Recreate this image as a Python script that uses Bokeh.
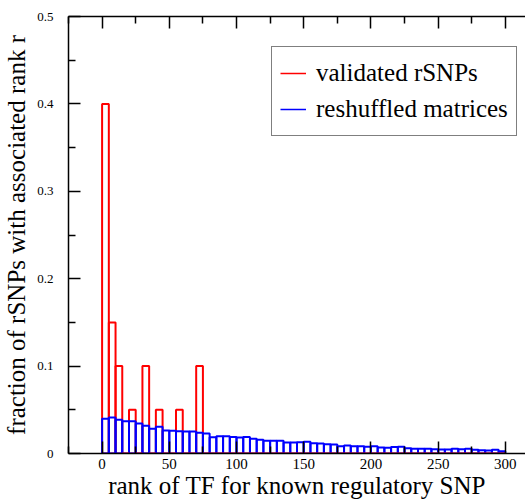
import numpy as np
from bokeh.plotting import figure
from bokeh.models import (ColumnDataSource, Range1d, LinearAxis, FixedTicker,
                          Legend, LegendItem)
from bokeh.embed import file_html
from bokeh.resources import INLINE

# ---- data ----
bin_width = 5
bin_start = list(range(0, 300, bin_width))  # 60 bins, 0..295
validated = [0.40, 0.15, 0.10, 0.0, 0.05, 0.0, 0.10, 0.0, 0.05, 0.0,
             0.0, 0.05, 0.0, 0.0, 0.10] + [0.0] * 45
reshuffled = [0.0397, 0.0412, 0.0385, 0.0370, 0.0370, 0.0344, 0.0317, 0.0282, 0.0305, 0.0263,
              0.0260, 0.0256, 0.0252, 0.0252, 0.0237, 0.0230, 0.0187, 0.0198, 0.0198, 0.0190,
              0.0183, 0.0190, 0.0168, 0.0156, 0.0145, 0.0145, 0.0145, 0.0126, 0.0126, 0.0130,
              0.0134, 0.0118, 0.0115, 0.0107, 0.0103, 0.0084, 0.0092, 0.0084, 0.0084, 0.0076,
              0.0084, 0.0069, 0.0065, 0.0073, 0.0076, 0.0061, 0.0053, 0.0053, 0.0053, 0.0050,
              0.0046, 0.0046, 0.0053, 0.0050, 0.0053, 0.0042, 0.0038, 0.0034, 0.0042, 0.0027]
x_ticks = [0, 50, 100, 150, 200, 250, 300]
x_minor = [-25, 25, 75, 125, 175, 225, 275]
y_ticks = [0, 0.1, 0.2, 0.3, 0.4, 0.5]
y_tick_labels = ["0", "0.1", "0.2", "0.3", "0.4", "0.5"]
y_minor = [0.05, 0.15, 0.25, 0.35, 0.45]

left = np.array(bin_start, dtype=float)
right = left + bin_width
red = np.array(validated)
blue = np.array(reshuffled)

RED = "#ff0000"
BLUE = "#0000ff"
FONT = "Liberation Serif"

p = figure(width=525, height=504, output_backend="svg", toolbar_location=None,
           x_range=Range1d(-25, 315), y_range=Range1d(0, 0.5),
           min_border_left=63, min_border_right=0, min_border_top=16, min_border_bottom=51)
p.outline_line_color = None
p.xgrid.grid_line_color = None
p.ygrid.grid_line_color = None

nz = red > 0
src_red_nz = ColumnDataSource(dict(left=left[nz], right=right[nz], top=red[nz]))
src_red_z = ColumnDataSource(dict(left=left[~nz], right=right[~nz], top=red[~nz]))
src_blue = ColumnDataSource(dict(left=left, right=right, top=blue))

p.quad(left="left", right="right", bottom=0, top="top", source=src_red_nz,
       fill_color=None, line_color=RED, line_width=2)
p.quad(left="left", right="right", bottom=0, top="top", source=src_blue,
       fill_color=None, line_color=BLUE, line_width=2)
p.quad(left="left", right="right", bottom=0, top="top", source=src_red_z,
       fill_color=None, line_color=RED, line_width=2)

# legend proxies: hidden step lines of the same series, shown only as legend glyphs
lr = p.line(x=left, y=red, line_color=RED, line_width=1.5, visible=False)
lb = p.line(x=left, y=blue, line_color=BLUE, line_width=1.5, visible=False)
legend = Legend(items=[LegendItem(label="validated rSNPs", renderers=[lr]),
                       LegendItem(label="reshuffled matrices", renderers=[lb])],
                location=(203, 317))
legend.label_text_font = FONT
legend.label_text_font_size = "25px"
legend.label_text_color = "black"
legend.glyph_width = 26
legend.glyph_height = 36
legend.label_height = 36
legend.label_standoff = 10
legend.spacing = 0
legend.padding = 8
legend.margin = 0
legend.border_line_color = "black"
legend.border_line_width = 1
legend.background_fill_alpha = 1
legend.inactive_fill_alpha = 0
p.add_layout(legend, "center")


def style_axis(ax):
    ax.axis_line_color = "black"
    ax.axis_line_width = 1.5
    ax.major_tick_line_color = "black"
    ax.minor_tick_line_color = "black"
    ax.major_tick_line_width = 1.5
    ax.minor_tick_line_width = 1.5
    ax.major_tick_in = 12
    ax.major_tick_out = 0
    ax.minor_tick_in = 7
    ax.minor_tick_out = 0
    ax.major_label_text_font = FONT
    ax.major_label_text_color = "black"
    ax.axis_label_text_font = FONT
    ax.axis_label_text_font_style = "normal"
    ax.axis_label_text_color = "black"


xb = p.xaxis[0]
xb.ticker = FixedTicker(ticks=x_ticks, minor_ticks=x_minor)
xb.axis_label = "rank of TF for known regulatory SNP"
style_axis(xb)
xb.major_label_text_font_size = "15px"
xb.axis_label_text_font_size = "25px"
xb.major_label_standoff = 5
xb.axis_label_standoff = 0

yl = p.yaxis[0]
yl.ticker = FixedTicker(ticks=y_ticks, minor_ticks=y_minor)
yl.axis_label = "fraction of rSNPs with associated rank r"
style_axis(yl)
yl.major_label_overrides = {t: lab for t, lab in zip(y_ticks, y_tick_labels)}
yl.major_label_text_font_size = "13px"
yl.axis_label_text_font_size = "25px"
yl.major_label_standoff = 15
yl.axis_label_standoff = 4

xt = LinearAxis(ticker=FixedTicker(ticks=x_ticks, minor_ticks=x_minor))
style_axis(xt)
xt.major_label_text_color = None
xt.major_label_text_font_size = "2px"
xt.major_label_standoff = 0
p.add_layout(xt, "above")

open("out.html", "w").write(file_html(p, INLINE))
